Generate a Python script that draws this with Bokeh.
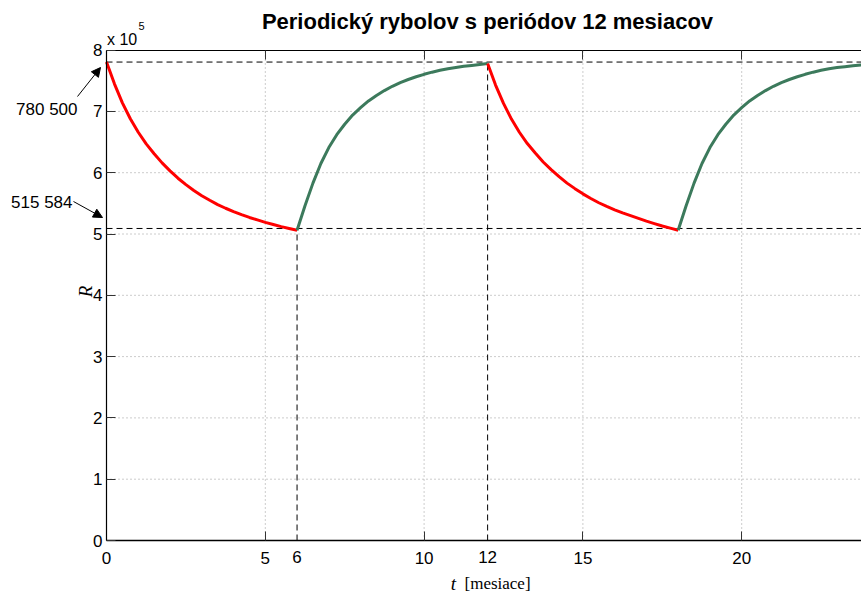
import math
from bokeh.plotting import figure
from bokeh.models import Range1d, FixedTicker, LinearAxis, Label, Arrow, NormalHead
from bokeh.embed import file_html
from bokeh.resources import INLINE

# ---------------- data ----------------
title_text = "Periodický rybolov s periódov 12 mesiacov"

t_red1 = [0, 0.25, 0.5, 0.75, 1, 1.25, 1.5, 1.75, 2, 2.25, 2.5, 2.75, 3,
          3.25, 3.5, 3.75, 4, 4.25, 4.5, 4.75, 5, 5.25, 5.5, 5.75, 6]
R_red1 = [780500, 745000, 714000, 688000, 666000, 647000, 631000, 616000, 603000,
          591000, 580500, 571000, 562500, 555000, 548000, 542000, 536500, 531500,
          527000, 523000, 519000, 515500, 512000, 509000, 506000]

t_green1 = [6, 6.25, 6.5, 6.75, 7, 7.25, 7.5, 7.75, 8, 8.25, 8.5, 8.75, 9,
            9.25, 9.5, 9.75, 10, 10.25, 10.5, 10.75, 11, 11.25, 11.5, 11.75, 12]
R_green1 = [506000, 546000, 583000, 615000, 641000, 662000, 679000, 694000, 706000,
            717000, 726000, 734000, 741000, 747000, 752000, 756500, 760500, 764000,
            767000, 769500, 771500, 773500, 775000, 776500, 778000]

t_red2 = [12, 12.25, 12.5, 12.75, 13, 13.25, 13.5, 13.75, 14, 14.25, 14.5, 14.75, 15,
          15.25, 15.5, 15.75, 16, 16.25, 16.5, 16.75, 17, 17.25, 17.5, 17.75, 18]
R_red2 = [778000, 743000, 713000, 687500, 666000, 647500, 632000, 617500, 605000,
          593500, 583000, 574000, 565500, 558000, 551000, 545000, 539500, 534500,
          530000, 525500, 521000, 517000, 513000, 509500, 506000]

t_green2 = [18, 18.25, 18.5, 18.75, 19, 19.25, 19.5, 19.75, 20, 20.25, 20.5, 20.75, 21,
            21.25, 21.5, 21.75, 22, 22.25, 22.5, 22.75, 23, 23.25, 23.5, 23.75, 24]
R_green2 = [506000, 546000, 583000, 615000, 641000, 662000, 679000, 694000, 706000,
            717000, 726000, 734000, 741000, 747000, 752000, 756500, 760500, 764000,
            767000, 769500, 771500, 773000, 774500, 775800, 777000]

t_start, t_end = 0, 24
harvest_end = 6          # vertical dashed line 1
period = 12              # vertical dashed line 2
level_high = 780500      # upper dashed level
level_low = 509000       # lower dashed level (as drawn)
R_min, R_max = 0, 800000

x_ticks = [0, 5, 10, 15, 20]
y_ticks = [0, 100000, 200000, 300000, 400000, 500000, 600000, 700000, 800000]
y_tick_labels = ["0", "1", "2", "3", "4", "5", "6", "7", "8"]
extra_x_labels = ["6", "12"]
note_high = "780 500"
note_low = "515 584"

# ---------------- layout: frame covers the whole canvas ----------------
W, H = 861, 597
PX_LEFT, PX_BOTTOM = 106, 540          # where t=0 and R=0 sit
SX = 31.76                              # px per month
SY = 61.3 / 100000                      # px per fish

x0 = -PX_LEFT / SX
x1 = (W - PX_LEFT) / SX
y1 = PX_BOTTOM / SY
y0 = -(H - PX_BOTTOM) / SY

def px_to_x(px):
    return (px - PX_LEFT) / SX

def py_to_y(py):
    return (PX_BOTTOM - py) / SY

SANS = "Liberation Sans"
SERIF = "Liberation Serif"
RED = "#ff0000"
GREEN = "#3c7a5c"

p = figure(width=W, height=H, x_range=Range1d(x0, x1), y_range=Range1d(y0, y1),
           output_backend="svg", toolbar_location=None,
           min_border_left=0, min_border_right=0, min_border_top=0, min_border_bottom=0,
           x_axis_location=None, y_axis_location=None)
p.outline_line_color = None
p.background_fill_color = "white"
p.border_fill_color = "white"
p.xgrid.visible = False
p.ygrid.visible = False

xt = FixedTicker(ticks=x_ticks)
yt = FixedTicker(ticks=y_ticks)

def style_axis(ax, font_px):
    ax.major_tick_in = 9
    ax.major_tick_out = 0
    ax.minor_tick_in = 0
    ax.minor_tick_out = 0
    ax.major_tick_line_color = "#333333"
    ax.axis_line_color = "black"
    ax.major_label_text_font = SANS
    ax.major_label_text_font_size = font_px
    ax.major_label_text_color = "black"

# dotted grid (drawn from the tick arrays)
gx = [v for v in x_ticks if v != t_start]
gy = [v for v in y_ticks if v not in (R_min, R_max)]
grid_kw = dict(line_color="#999999", line_width=1, line_dash="1 3")
p.segment(x0=gx, y0=[R_min] * len(gx), x1=gx, y1=[R_max] * len(gx), **grid_kw)
p.segment(x0=[t_start] * len(gy), y0=gy, x1=[t_end] * len(gy), y1=gy, **grid_kw)

bottom = LinearAxis(ticker=xt, fixed_location=R_min, bounds=(t_start, t_end),
                    major_label_standoff=11, axis_line_width=1.5)
style_axis(bottom, "17px")
p.add_layout(bottom, "below")

left = LinearAxis(ticker=yt, fixed_location=t_start, bounds=(R_min, R_max),
                  major_label_standoff=4, axis_line_width=1.2,
                  major_label_overrides={v: s for v, s in zip(y_ticks, y_tick_labels)})
style_axis(left, "17px")
p.add_layout(left, "left")

top = LinearAxis(ticker=xt, fixed_location=R_max, bounds=(t_start, t_end),
                 axis_line_width=1.2,
                 major_label_overrides={v: "" for v in x_ticks})
style_axis(top, "16px")
p.add_layout(top, "above")

# dashed reference lines
dash_kw = dict(line_color="black", line_width=1, line_dash="6 4")
p.segment(x0=[t_start, t_start], y0=[level_high, level_low],
          x1=[t_end, t_end], y1=[level_high, level_low], **dash_kw)
p.segment(x0=[harvest_end, period], y0=[R_min, R_min],
          x1=[harvest_end, period], y1=[level_low, level_high], **dash_kw)

# curves
for tt, rr, col in ((t_red1, R_red1, RED), (t_green1, R_green1, GREEN),
                    (t_red2, R_red2, RED), (t_green2, R_green2, GREEN)):
    p.line(tt, rr, line_color=col, line_width=3, line_join="round")

# ---------------- texts (positioned by their visual middle) ----------------
def label(px, py, text, align, font, size, style="normal", angle=0.0):
    p.add_layout(Label(x=px_to_x(px), y=py_to_y(py), text=text, text_align=align,
                       text_baseline="middle", text_font=font, text_font_style=style,
                       text_font_size=size, text_color="black", angle=angle))

label(487, 20.5, title_text, "center", SANS, "22px", "bold")
label(106.5, 38.5, "x 10", "left", SANS, "16px")
label(138, 25.5, "5", "left", SANS, "11px")
for xv, s in zip([harvest_end, period], extra_x_labels):
    p.add_layout(Label(x=xv, y=py_to_y(556.5), text=s, text_align="center",
                       text_baseline="middle", text_font=SANS,
                       text_font_size="17px", text_color="black"))
label(453, 583, "t", "center", SERIF, "19px", "italic")
label(464, 583, "[mesiace]", "left", SERIF, "17px")
label(85, 291, "R", "center", SERIF, "19px", "italic", math.pi / 2)
label(77, 108.7, note_high, "right", SANS, "17px")
label(72, 201.7, note_low, "right", SANS, "17px")

p.add_layout(Arrow(x_start=px_to_x(77), y_start=py_to_y(96), x_end=px_to_x(100), y_end=py_to_y(67),
                   line_width=1, line_color="black",
                   end=NormalHead(size=9, fill_color="black", line_color="black")))
p.add_layout(Arrow(x_start=px_to_x(73), y_start=py_to_y(201), x_end=px_to_x(102), y_end=py_to_y(217),
                   line_width=1, line_color="black",
                   end=NormalHead(size=9, fill_color="black", line_color="black")))

open("out.html", "w").write(file_html(p, INLINE))
